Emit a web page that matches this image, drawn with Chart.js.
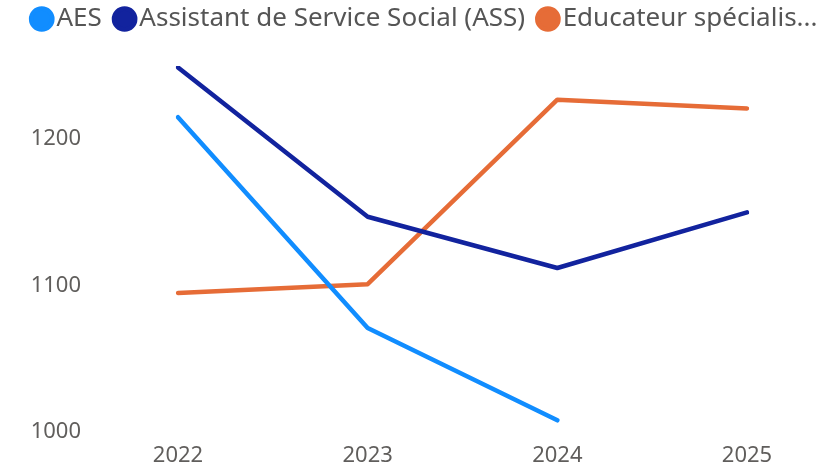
<!DOCTYPE html>
<html>
<head>
<meta charset="utf-8">
<script src="https://cdn.jsdelivr.net/npm/chart.js@4"></script>
<style>
  body { margin: 0; background: #fff; }
</style>
</head>
<body>
<canvas id="chart" width="819" height="469"></canvas>
<script>
// Data
const years = ['2022', '2023', '2024', '2025'];
const seriesNames = ['AES', 'Assistant de Service Social (ASS)', 'Educateur spécialis...'];
const aesValues = [1215, 1071, 1008, null];
const assValues = [1249, 1147, 1112, 1150];
const educValues = [1095, 1101, 1227, 1221];
const yTicks = [1000, 1100, 1200];

const colors = ['#118DFF', '#12239E', '#E66C37'];
const fontFamily = "'Noto Sans', 'Open Sans', sans-serif";

// keep the legend box at a fixed height so the plot starts where the reference does
const legendHeight = {
  id: 'legendHeight',
  beforeLayout(chart) {
    const lg = chart.legend;
    if (lg && !lg._fixedHeight) {
      const fit = lg.fit;
      lg.fit = function () {
        fit.call(this);
        this.height = 81;
      };
      lg._fixedHeight = true;
    }
  }
};

const ctx = document.getElementById('chart').getContext('2d');
new Chart(ctx, {
  type: 'line',
  data: {
    labels: years,
    datasets: [aesValues, assValues, educValues].map((values, i) => ({
      label: seriesNames[i],
      data: values,
      borderColor: colors[i],
      backgroundColor: colors[i],
      borderWidth: 4.5,
      pointRadius: 0,
      pointHoverRadius: 0,
      tension: 0,
      borderCapStyle: 'round',
      borderJoinStyle: 'round',
      fill: false
    }))
  },
  plugins: [legendHeight],
  options: {
    responsive: false,
    animation: false,
    layout: { padding: { left: 19, right: -30, top: -15, bottom: 0 } },
    plugins: {
      tooltip: { enabled: false },
      legend: {
        display: true,
        position: 'top',
        align: 'start',
        labels: {
          usePointStyle: true,
          pointStyle: 'circle',
          boxWidth: 3.5,
          boxHeight: 15,
          padding: 21,
          color: '#555555',
          font: { family: fontFamily, size: 26 }
        }
      }
    },
    scales: {
      x: {
        offset: false,
        grid: { display: false },
        border: { display: false },
        afterFit: scale => {
          scale.height = 37;
          scale.paddingRight = 72;
        },
        ticks: {
          color: '#605E5C',
          padding: 3,
          maxRotation: 0,
          font: { family: fontFamily, size: 22 }
        }
      },
      y: {
        min: 1000,
        max: 1250,
        grid: { display: false },
        border: { display: false },
        afterFit: scale => {
          scale.width = 178 - 19;
          scale.paddingTop = 0;
          scale.paddingBottom = 37;
        },
        afterBuildTicks: scale => { scale.ticks = yTicks.map(v => ({ value: v })); },
        ticks: {
          color: '#605E5C',
          padding: 89,
          callback: value => String(value),
          font: { family: fontFamily, size: 22 }
        }
      }
    }
  }
});
</script>
</body>
</html>
